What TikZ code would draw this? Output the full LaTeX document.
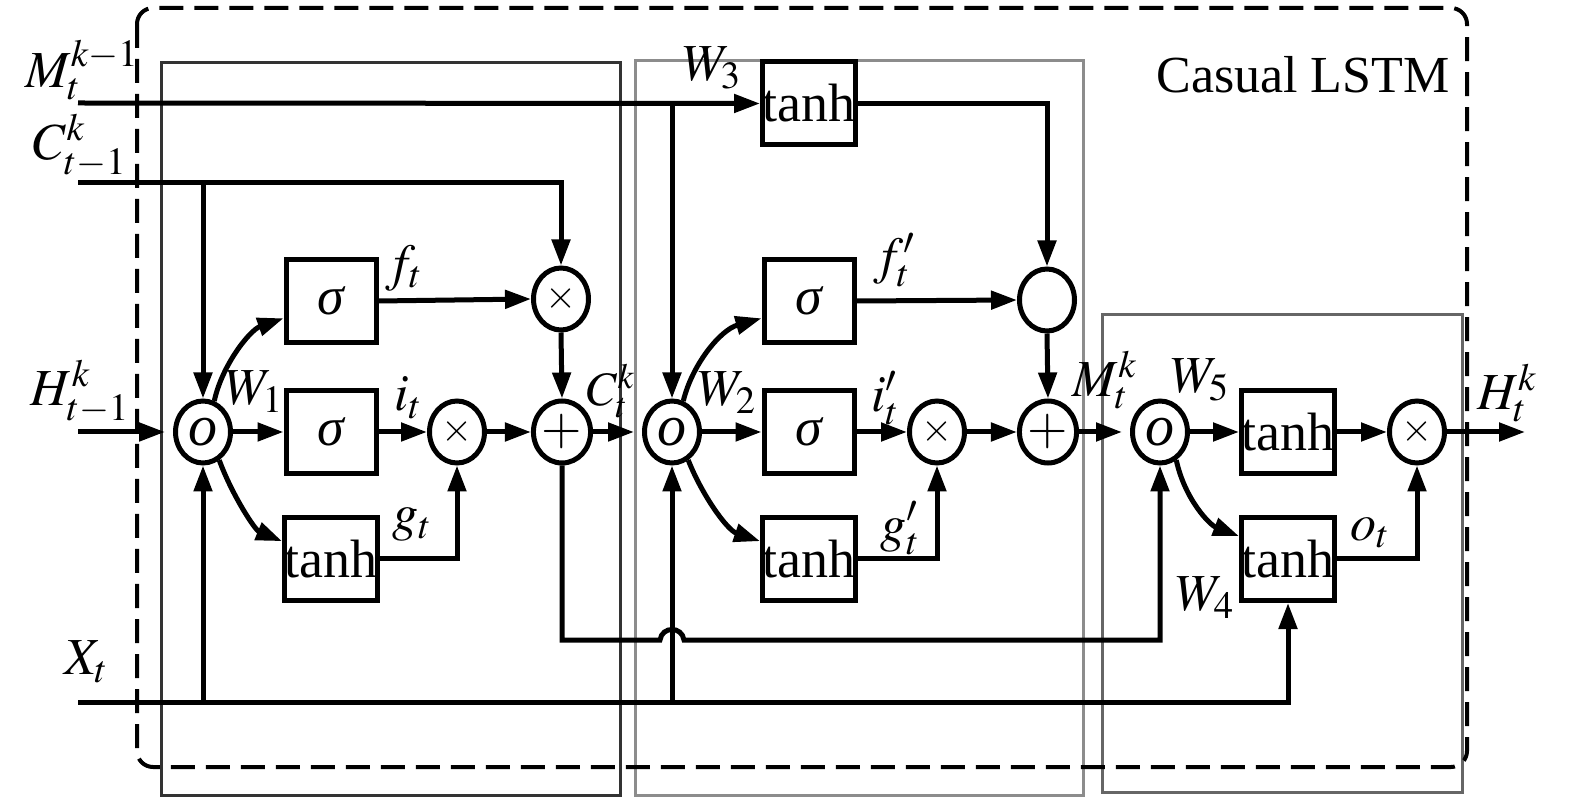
\documentclass[tikz,border=0pt]{standalone}
\usepackage{mathptmx}
\usepackage{fontspec}
\setmainfont{Liberation Serif}
\usetikzlibrary{arrows.meta,shapes.geometric}
\begin{document}
\begin{tikzpicture}[x=0.5pt,y=-0.5pt,
  font=\fontsize{26}{30}\selectfont,
  line width=2.5pt,
  arr/.style={-{Triangle[length=13pt,width=9pt]}},
  fn/.style={draw, rectangle, minimum width=45pt, minimum height=41.5pt, inner sep=0pt, fill=white, font=\fontsize{27}{30}\selectfont},
  op/.style={draw, ellipse, minimum width=27.5pt, minimum height=31pt, inner sep=0pt, fill=white},
  bigo/.style={font=\fontsize{29}{32}\selectfont},
  smallop/.style={font=\fontsize{20}{22}\selectfont},
  lbl/.style={inner sep=0pt},
  short/.style={shorten >=4pt},
  cont/.style={line width=1.5pt},
]
\useasboundingbox (0,0) rectangle (1575,807);
% containers
\draw[cont, draw=black!80] (161,63) rectangle (620,795);
\draw[cont, draw=black!45] (635,61) rectangle (1083,795);
\draw[cont, draw=black!60] (1102,315) rectangle (1462,792);
\draw[line width=2pt, dash pattern=on 12pt off 5.5pt, rounded corners=8pt] (137,8) rectangle (1467,767);

% left block
\node[op,bigo] (o1) at (203,432) {\itshape o};
\node[fn] (sf) at (331,301) {\itshape σ};
\node[fn] (si) at (331,432) {\itshape σ};
\node[fn] (tg) at (331,559) {tanh};
\node[op,smallop] (xf) at (561,299) {$\times$};
\node[op,smallop] (xi) at (457,432) {$\times$};
\node[op] (p1) at (562,432) {$+$};
% middle block
\node[op,bigo] (o2) at (672,432) {\itshape o};
\node[fn] (t3) at (809,103.5) {tanh};
\node[fn] (sf2) at (809,301) {\itshape σ};
\node[fn] (si2) at (809,432) {\itshape σ};
\node[fn] (tg2) at (809,559) {tanh};
\node[op] (ec) at (1047,300) {};
\node[op,smallop] (x2) at (937,432) {$\times$};
\node[op] (p2) at (1048,432) {$+$};
% right block
\node[op,bigo] (o3) at (1160,432) {\itshape o};
\node[fn] (tu) at (1288,432) {tanh};
\node[fn] (tl) at (1288,559) {tanh};
\node[op,smallop] (x3) at (1417,432) {$\times$};

\coordinate (Min) at (78,103);
\coordinate (Cin) at (78,183);
\coordinate (Hin) at (78,432);
\coordinate (Xin) at (78,702);
\coordinate (Hout) at (1525,432);

% inputs
\draw[arr] (Min) -- (t3.west);
\draw[arr] (o2.north |- Min) -- (o2.north);
\draw[arr] (Cin) -| (xf.north);
\draw[arr] (o1.north |- Cin) -- (o1.north);
\draw[arr,short] (Hin) -- (o1.west);
\draw[arr] (Xin) -| (tl.south);
\draw[arr] (o1.south |- Xin) -- (o1.south);
\draw[arr] (o2.south |- Xin) -- (o2.south);

% left block connectors
\draw[arr] (o1.70) .. controls (222,365) and (250,330) .. (sf.200);
\draw[arr] (o1.east) -- (si.west);
\draw[arr] (o1.-60) .. controls (232,495) and (255,530) .. (tg.160);
\draw[arr] (sf.east) -- (xf.west);
\draw[arr] (xf.south) -- (p1.north);
\draw[arr] (si.east) -- (xi.west);
\draw[arr] (tg.east) -| (xi.south);
\draw[arr] (xi.east) -- (p1.west);
\draw[arr,short] (p1.east) -- (o2.west);
\draw[arr] (p1.south) |- (660,640) .. controls (662,626) and (682,626) .. (684,640) -| (o3.south);

% middle block connectors
\draw[arr] (o2.70) .. controls (692,365) and (720,330) .. (sf2.200);
\draw[arr] (o2.east) -- (si2.west);
\draw[arr] (o2.-60) .. controls (702,495) and (727,530) .. (tg2.160);
\draw[arr] (t3.east) -| (ec.north);
\draw[arr] (sf2.east) -- (ec.west);
\draw[arr] (ec.south) -- (p2.north);
\draw[arr] (si2.east) -- (x2.west);
\draw[arr] (tg2.east) -| (x2.south);
\draw[arr] (x2.east) -- (p2.west);
\draw[arr,short] (p2.east) -- (o3.west);

% right block connectors
\draw[arr] (o3.east) -- (tu.west);
\draw[arr] (o3.-60) .. controls (1185,500) and (1210,525) .. (tl.155);
\draw[arr] (tu.east) -- (x3.west);
\draw[arr] (tl.east) -| (x3.south);
\draw[arr] (x3.east) -- (Hout);

% labels
\node[lbl] (lM) at (82,70) {$M_t^{k-1}$};
\node[lbl] (lC) at (80,146) {$C_{t-1}^k$};
\node[lbl] (lH) at (80,392) {$H_{t-1}^k$};
\node[lbl] (lX) at (86,662) {$X_t$};
\node[lbl] (lW3) at (712,68) {$W_3$};
\node[lbl] (lf) at (404,268) {$f_t$};
\node[lbl] (li) at (408,398) {$i_t$};
\node[lbl] (lg) at (412,525) {$g_t$};
\node[lbl] (lW1) at (254,392) {$W_1$};
\node[lbl,font=\fontsize{24}{28}\selectfont] (lCt) at (611,391) {$C_t^k$};
\node[lbl] (lW2) at (727,393) {$W_2$};
\node[lbl] (lf2) at (894,260) {$f_t^{\prime}$};
\node[lbl] (li2) at (885,398) {$i_t^{\prime}$};
\node[lbl] (lg2) at (900,528) {$g_t^{\prime}$};
\node[lbl] (lMt) at (1105,380) {$M_t^k$};
\node[lbl] (lW5) at (1200,380) {$W_5$};
\node[lbl] (lH2) at (1507,393) {$H_t^k$};
\node[lbl] (lW4) at (1205,598) {$W_4$};
\node[lbl] (lo) at (1370,533) {$o_t$};
\node[lbl] (title) at (1303,75) {Casual LSTM};
\end{tikzpicture}
\end{document}
